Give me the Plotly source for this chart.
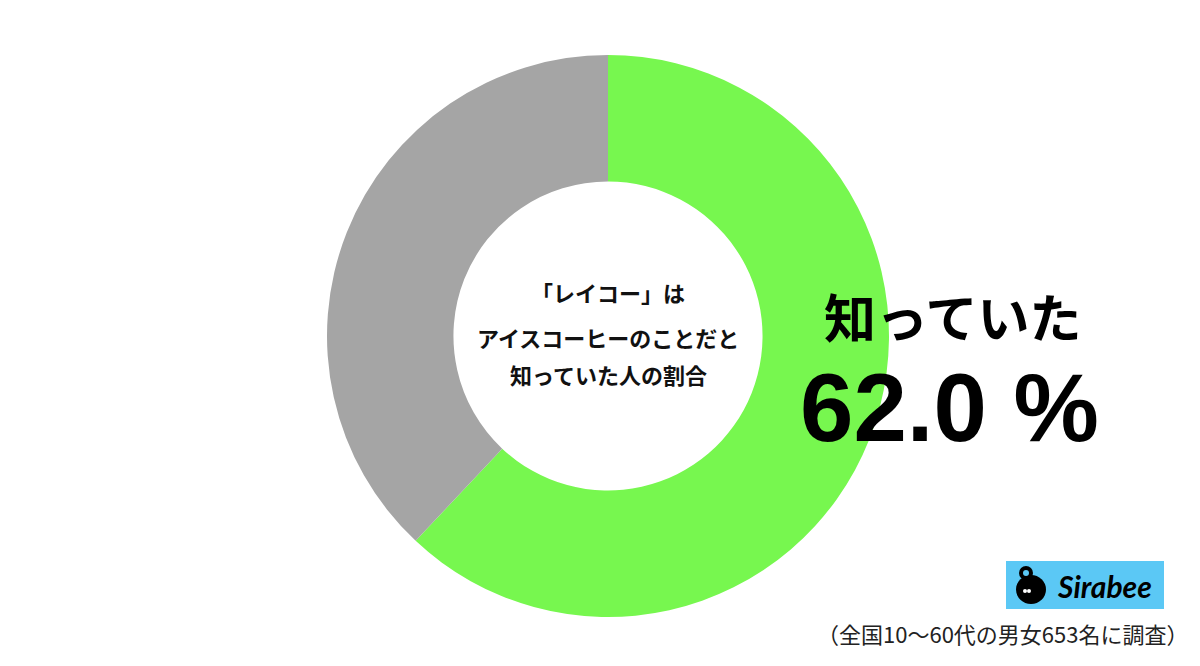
import plotly.graph_objects as go

labels = ["知っていた", "知らなかった"]
values = [62.0, 38.0]
colors = ["#77F74F", "#A5A5A5"]
center_lines = ["「レイコー」は", "アイスコーヒーのことだと", "知っていた人の割合"]
big_label = "知っていた"
big_value = "62.0 %"
note = "（全国10〜60代の男女653名に調査）"
logo_text = "Sirabee"

W, H = 1200, 666
cx, cy, r = 608, 336, 281

fig = go.Figure(go.Pie(
    labels=labels, values=values, hole=0.55, sort=False, direction="clockwise",
    rotation=0, marker=dict(colors=colors, line=dict(width=0)),
    textinfo="none", hoverinfo="label+percent",
    domain=dict(x=[(cx - r) / W, (cx + r) / W], y=[(H - cy - r) / H, (H - cy + r) / H]),
))

ann = []
cjk = "Noto Sans CJK JP"
for txt, y in zip(center_lines, [292, 337, 374]):
    ann.append(dict(text=f"<b>{txt}</b>", x=cx / W, y=1 - y / H, xref="paper", yref="paper",
                    showarrow=False, font=dict(family=cjk, size=22, color="#111"),
                    xanchor="center", yanchor="middle"))
ann.append(dict(text=f"<b>{big_label}</b>", x=952 / W, y=1 - 315 / H, xref="paper", yref="paper",
                showarrow=False, font=dict(family=cjk, size=52, color="#000"),
                xanchor="center", yanchor="middle"))
ann.append(dict(text=f"<b>{big_value}</b>", x=949 / W, y=1 - 407 / H, xref="paper", yref="paper",
                showarrow=False, font=dict(family="Liberation Sans", size=96, color="#000"),
                xanchor="center", yanchor="middle"))
ann.append(dict(text=note, x=1190 / W, y=1 - 633 / H, xref="paper", yref="paper",
                showarrow=False, font=dict(family=cjk, size=22, color="#222"),
                xanchor="right", yanchor="middle"))
ann.append(dict(text=f"<b><i>{logo_text}</i></b>", x=1104 / W, y=1 - 586 / H, xref="paper", yref="paper",
                showarrow=False, font=dict(family="Lato", size=30, color="#000"),
                xanchor="center", yanchor="middle"))

def px(x):
    return x / W

def py(y):
    return 1 - y / H

shapes = [
    dict(type="rect", xref="paper", yref="paper", x0=px(1006), x1=px(1164), y0=py(609), y1=py(561),
         fillcolor="#5BC8F5", line=dict(width=0), layer="above"),
    # icon body
    dict(type="circle", xref="paper", yref="paper", x0=px(1016), x1=px(1046), y0=py(604), y1=py(575),
         fillcolor="#000", line=dict(width=0), layer="above"),
    # icon neck / head
    dict(type="circle", xref="paper", yref="paper", x0=px(1019), x1=px(1033), y0=py(580), y1=py(566),
         fillcolor="#000", line=dict(width=0), layer="above"),
    dict(type="circle", xref="paper", yref="paper", x0=px(1023), x1=px(1029), y0=py(576), y1=py(570),
         fillcolor="#5BC8F5", line=dict(width=0), layer="above"),
    # eyes
    dict(type="circle", xref="paper", yref="paper", x0=px(1023), x1=px(1027), y0=py(593), y1=py(589),
         fillcolor="#fff", line=dict(width=0), layer="above"),
    dict(type="circle", xref="paper", yref="paper", x0=px(1027), x1=px(1031), y0=py(593), y1=py(589),
         fillcolor="#fff", line=dict(width=0), layer="above"),
]

fig.update_layout(
    width=W, height=H, margin=dict(l=0, r=0, t=0, b=0),
    paper_bgcolor="#fff", plot_bgcolor="#fff", showlegend=False,
    annotations=ann, shapes=shapes,
)
fig.write_html("out.html", config={"displayModeBar": False},
               post_script="document.body.style.margin='0';")
